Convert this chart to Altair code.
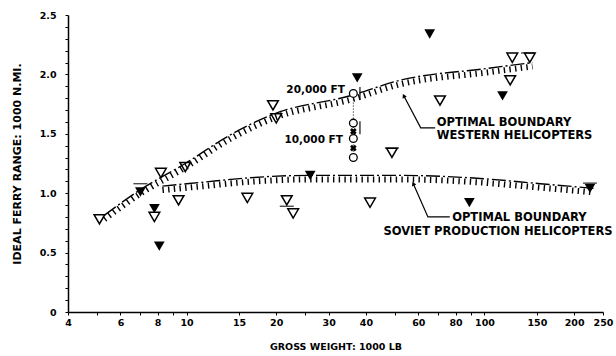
import altair as alt
import pandas as pd

# Gross weight (1000 lb) against ideal ferry range (1000 n.mi.)
open_weight = [5.1, 7.8, 8.2, 9.4, 9.9, 16.0, 19.5, 20.0, 21.7, 22.8, 41.3, 48.9, 70.9, 122, 124, 142]
open_range = [0.78, 0.80, 1.17, 0.94, 1.22, 0.96, 1.74, 1.63, 0.94, 0.83, 0.92, 1.34, 1.78, 1.95, 2.14, 2.14]

filled_weight = [7.0, 7.8, 8.1, 26, 37.4, 65.5, 89, 115, 226]
filled_range = [1.01, 0.87, 0.555, 1.15, 1.97, 2.34, 0.92, 1.82, 1.04]

# one helicopter flown at several altitudes
alt_weight = [36.3, 36.3, 36.3, 36.3]
alt_range = [1.84, 1.59, 1.46, 1.30]
cross_weight = [36.3, 36.3]
cross_range = [1.52, 1.38]
alt_span_weight = [36.3]
alt_span_low = [1.30]
alt_span_high = [1.84]

# short range bars drawn on some of the points
bar_weight = [7.0, 21.7, 48.9, 226, 140, 38.2, 38.2]
bar_range = [1.08, 0.89, 1.38, 1.085, 2.18, 1.84, 1.55]
bar_orient = ["h", "h", "h", "h", "h", "v", "v"]

# optimal boundaries
western_weight = [5.3, 7.0, 9.9, 14.0, 19.8, 35.4, 52, 102, 145]
western_range = [0.815, 1.03, 1.25, 1.49, 1.67, 1.82, 1.95, 2.05, 2.10]
soviet_weight = [8.3, 11.1, 16.3, 26, 52, 89, 154, 234]
soviet_range = [1.06, 1.09, 1.13, 1.15, 1.15, 1.13, 1.08, 1.04]

# annotations
alt_note_text = ["20,000 FT", "10,000 FT"]
alt_note_weight = [34.0, 33.5]
alt_note_range = [1.87, 1.45]

boundary_text = ["OPTIMAL BOUNDARY", "WESTERN HELICOPTERS",
                 "OPTIMAL BOUNDARY", "SOVIET PRODUCTION HELICOPTERS"]
boundary_text_weight = [69.2, 69.2, 77.9, 45.8]
boundary_text_range = [1.588, 1.479, 0.79, 0.672]

leader_group = ["w", "w", "w", "s", "s", "s"]
leader_step = [0, 1, 2, 0, 1, 2]
leader_weight = [53.6, 61.1, 68.3, 57.7, 64.6, 76.5]
leader_range = [1.82, 1.55, 1.55, 1.08, 0.80, 0.80]
arrow_weight = [53.6, 57.7]
arrow_range = [1.82, 1.08]
arrow_angle = [333, 336]

x_ticks = [4, 5, 6, 7, 8, 9, 10, 15, 20, 25, 30, 40, 50, 60, 70, 80, 90, 100, 150, 200, 250]
x_labels = [4, 6, 8, 10, 15, 20, 30, 40, 60, 80, 100, 150, 200, 250]
y_ticks = [round(i * 0.1, 1) for i in range(26)]

FONT = "DejaVu Sans"
INK = "black"

x_axis = alt.Axis(
    title="GROSS WEIGHT: 1000 LB", values=x_ticks,
    labelExpr="indexof(" + str(x_labels) + ", datum.value) >= 0 ? datum.value : ''",
    grid=False, domainColor=INK, domainWidth=1.5, tickColor=INK, tickSize=3,
    labelColor=INK, labelFont=FONT, labelFontWeight="bold", labelFontSize=9.5,
    labelPadding=2, labelFlush=False, labelOverlap=False,
    titleColor=INK, titleFont=FONT, titleFontWeight="bold", titleFontSize=9.5,
    titlePadding=15,
)
y_axis = alt.Axis(
    title="IDEAL FERRY RANGE: 1000 N.MI.", values=y_ticks,
    labelExpr="abs(datum.value * 2 - round(datum.value * 2)) < 0.01 ? "
              "(datum.value == 0 ? '0' : format(datum.value, '.1f')) : ''",
    grid=False, domainColor=INK, domainWidth=1.5, tickColor=INK, tickSize=3,
    labelColor=INK, labelFont=FONT, labelFontWeight="bold", labelFontSize=9.5,
    labelPadding=9, labelOverlap=False,
    titleColor=INK, titleFont=FONT, titleFontWeight="bold", titleFontSize=11,
    titlePadding=17,
)

x_scale = alt.Scale(type="log", domain=[4, 250], nice=False)
y_scale = alt.Scale(domain=[0, 2.5], nice=False)
X = alt.X("w:Q", scale=x_scale, axis=x_axis)
Y = alt.Y("r:Q", scale=y_scale, axis=y_axis)


def frame(w, r, **extra):
    return pd.DataFrame({"w": w, "r": r, **extra})


curves = pd.concat([
    frame(western_weight, western_range, g="western"),
    frame(soviet_weight, soviet_range, g="soviet"),
])

boundary = alt.Chart(curves).mark_line(
    color=INK, strokeWidth=1.4, strokeDash=[14, 3, 2, 3], interpolate="monotone"
).encode(x=X, y=Y, detail="g:N")

# shading ticks hanging under each boundary
hatching = alt.Chart(curves).mark_line(
    color=INK, strokeWidth=6, strokeDash=[1.4, 4.3], yOffset=4, interpolate="monotone"
).encode(x=X, y=Y, detail="g:N")

open_pts = alt.Chart(frame(open_weight, open_range)).mark_point(
    shape="triangle-down", filled=False, stroke=INK, strokeWidth=1.5, size=115, opacity=1
).encode(x=X, y=Y)

filled_pts = alt.Chart(frame(filled_weight, filled_range)).mark_point(
    shape="triangle-down", filled=True, color=INK, size=115, opacity=1
).encode(x=X, y=Y)

span = alt.Chart(pd.DataFrame({"w": alt_span_weight, "r": alt_span_low, "r2": alt_span_high})).mark_rule(
    color=INK, strokeWidth=1, strokeDash=[1, 2]
).encode(x=X, y=Y, y2="r2:Q")

circles = alt.Chart(frame(alt_weight, alt_range)).mark_point(
    shape="circle", filled=True, fill="white", stroke=INK, strokeWidth=1.3, size=60, opacity=1
).encode(x=X, y=Y)

crosses = alt.Chart(frame(cross_weight, cross_range)).mark_point(
    shape="cross", angle=45, filled=True, color=INK, size=45, opacity=1
).encode(x=X, y=Y)

bars = frame(bar_weight, bar_range, o=bar_orient)
h_bars = alt.Chart(bars).transform_filter("datum.o == 'h'").mark_tick(
    orient="horizontal", color=INK, thickness=1.4, size=14
).encode(x=X, y=Y)
v_bars = alt.Chart(bars).transform_filter("datum.o == 'v'").mark_tick(
    orient="vertical", color=INK, thickness=1.6, size=13
).encode(x=X, y=Y)

alt_notes = alt.Chart(frame(alt_note_weight, alt_note_range, t=alt_note_text)).mark_text(
    align="right", baseline="middle", font=FONT, fontWeight="bold", fontSize=10.5, color=INK
).encode(x=X, y=Y, text="t:N")

boundary_notes = alt.Chart(frame(boundary_text_weight, boundary_text_range, t=boundary_text)).mark_text(
    align="left", baseline="middle", font=FONT, fontWeight="bold", fontSize=11.5, color=INK
).encode(x=X, y=Y, text="t:N")

leaders = alt.Chart(frame(leader_weight, leader_range, g=leader_group, s=leader_step)).mark_line(
    color=INK, strokeWidth=1.2
).encode(x=X, y=Y, detail="g:N", order="s:Q")

arrows = alt.Chart(frame(arrow_weight, arrow_range, a=arrow_angle)).mark_point(
    shape="triangle-up", filled=True, color=INK, size=22, opacity=1
).encode(x=X, y=Y, angle=alt.Angle("a:Q", scale=None))

chart = alt.layer(
    hatching, boundary, span, open_pts, filled_pts, circles, crosses,
    h_bars, v_bars, leaders, arrows, alt_notes, boundary_notes,
).properties(
    width=535, height=297,
    padding={"left": 68, "top": 15, "right": 13, "bottom": 44},
    autosize="none", background="white",
).configure_view(stroke=None)

chart.save("out.html", embed_options={"renderer": "svg", "actions": False})
